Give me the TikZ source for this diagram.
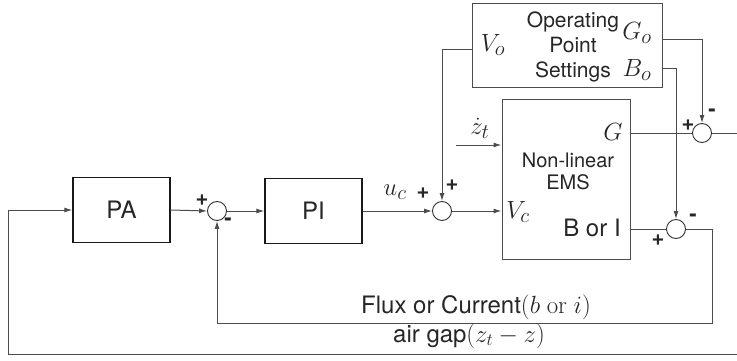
\documentclass[tikz,border=0pt]{standalone}
\usepackage[no-math]{fontspec}
\setmainfont{TeX Gyre Heros}
\usetikzlibrary{arrows.meta}

\begin{document}
\begin{tikzpicture}[x=1pt,y=-1pt,font=\fontsize{24}{26}\selectfont,
  >={Latex[length=8pt,width=5pt]},
  blk/.style={draw=black!90,line width=1.3pt,minimum width=97pt,minimum height=65pt,
    text=black!85},
  box/.style={draw=black!70,line width=1pt,inner sep=0pt},
  sum/.style={circle,draw=black!80,line width=0.9pt,minimum size=19pt,inner sep=0pt},
  wire/.style={draw=black!70,line width=1pt},
  sgn/.style={font=\fontsize{22}{22}\selectfont\bfseries,inner sep=0pt,text=black!85},
  mth/.style={font=\fontsize{29}{31}\selectfont,inner sep=0pt,text=black!85},
  txt/.style={inner sep=0pt,text=black!85,align=center},
]
\useasboundingbox (0,0) rectangle (737,361);

%% ---- blocks ----
\node[blk] (PA) at (121.5,210) {PA};
\node[blk] (PI) at (313.5,211) {PI};
\node[box,minimum width=128pt,minimum height=159pt] (EMS) at (566,179.5) {};
\node[box,minimum width=190pt,minimum height=84pt] (OPS) at (567,46) {};

%% ---- summing junctions ----
\node[sum] (s1) at (217,211) {};
\node[sum] (s2) at (442,211) {};
\node[sum] (s3) at (676,229) {};
\node[sum] (s4) at (702,133) {};

%% ---- ports ----
\coordinate (Vo) at ([yshift=-4pt]OPS.west);
\coordinate (Go) at ([yshift=6pt]OPS.east);
\coordinate (Bo) at ([yshift=-23pt]OPS.east);
\coordinate (zdot) at (456,145);
\coordinate (Gout) at (737,133);
\coordinate (fbR) at (712,323);
\coordinate (zin) at (737,354);
\coordinate (fbL) at (8,354);

%% ---- texts inside the boxes ----
\node[txt,font=\fontsize{21}{25}\selectfont] (opst) at (573,47) {Operating\\Point\\Settings};
\node[mth] (VoL) at (493,45) {$V_o$};
\node[mth] (GoL) at (637,33) {$G_o$};
\node[mth] (BoL) at (637,70) {$B_o$};
\node[txt,font=\fontsize{20}{22}\selectfont] (emst) at (568,171) {Non-linear\\EMS};
\node[mth] (GL) at (613,132) {$G$};
\node[mth] (VcL) at (518,212) {$V_c$};
\node[txt] (BIL) at (592,228) {B or I};
\node[mth] (zdL) at (480,128) {$\dot{z}_t$};
\node[mth] (ucL) at (395,192) {$u_c$};

%% ---- forward path ----
\draw[wire,->] (PA.east) -- (s1.west);
\draw[wire,->] (s1.east) -- (PI.west);
\draw[wire,->] (PI.east) -- (s2.west);
\draw[wire,->] (s2.east) -- (s2.east -| EMS.west);
\draw[wire,->] (zdot) -- (zdot -| EMS.west);
\draw[wire] (EMS.east |- s4.west) -- (s4.west);
\draw[wire] (s4.east) -- (Gout);
\draw[wire] (EMS.east |- s3.west) -- (s3.west);

%% ---- operating point ----
\draw[wire,->] (Vo) -| (s2.north);
\draw[wire,->] (Go) -| (s4.north);
\draw[wire,->] (Bo) -| (s3.north);

%% ---- feedback ----
\draw[wire,->] (s3.east) -| (fbR) -| (s1.south);
\draw[wire,->] (zin) -- (fbL) |- (PA.west);
\node[txt] (fluxL) at (476,307) {Flux or Current$(b\ \mathrm{or}\ i)$};
\node[txt] (gapL) at (469,336) {air gap$(z_t-z)$};

%% ---- signs ----
\node[sgn] (p1) at (202,200) {+};
\node[sgn] (m1) at (228,222) {-};
\node[sgn] (p2) at (423,193) {+};
\node[sgn] (p3) at (452,185) {+};
\node[sgn] (p4) at (658,240) {+};
\node[sgn] (m4) at (693,218) {-};
\node[sgn] (p5) at (688,125) {+};
\node[sgn] (m5) at (712,113) {-};

\end{tikzpicture}
\end{document}
